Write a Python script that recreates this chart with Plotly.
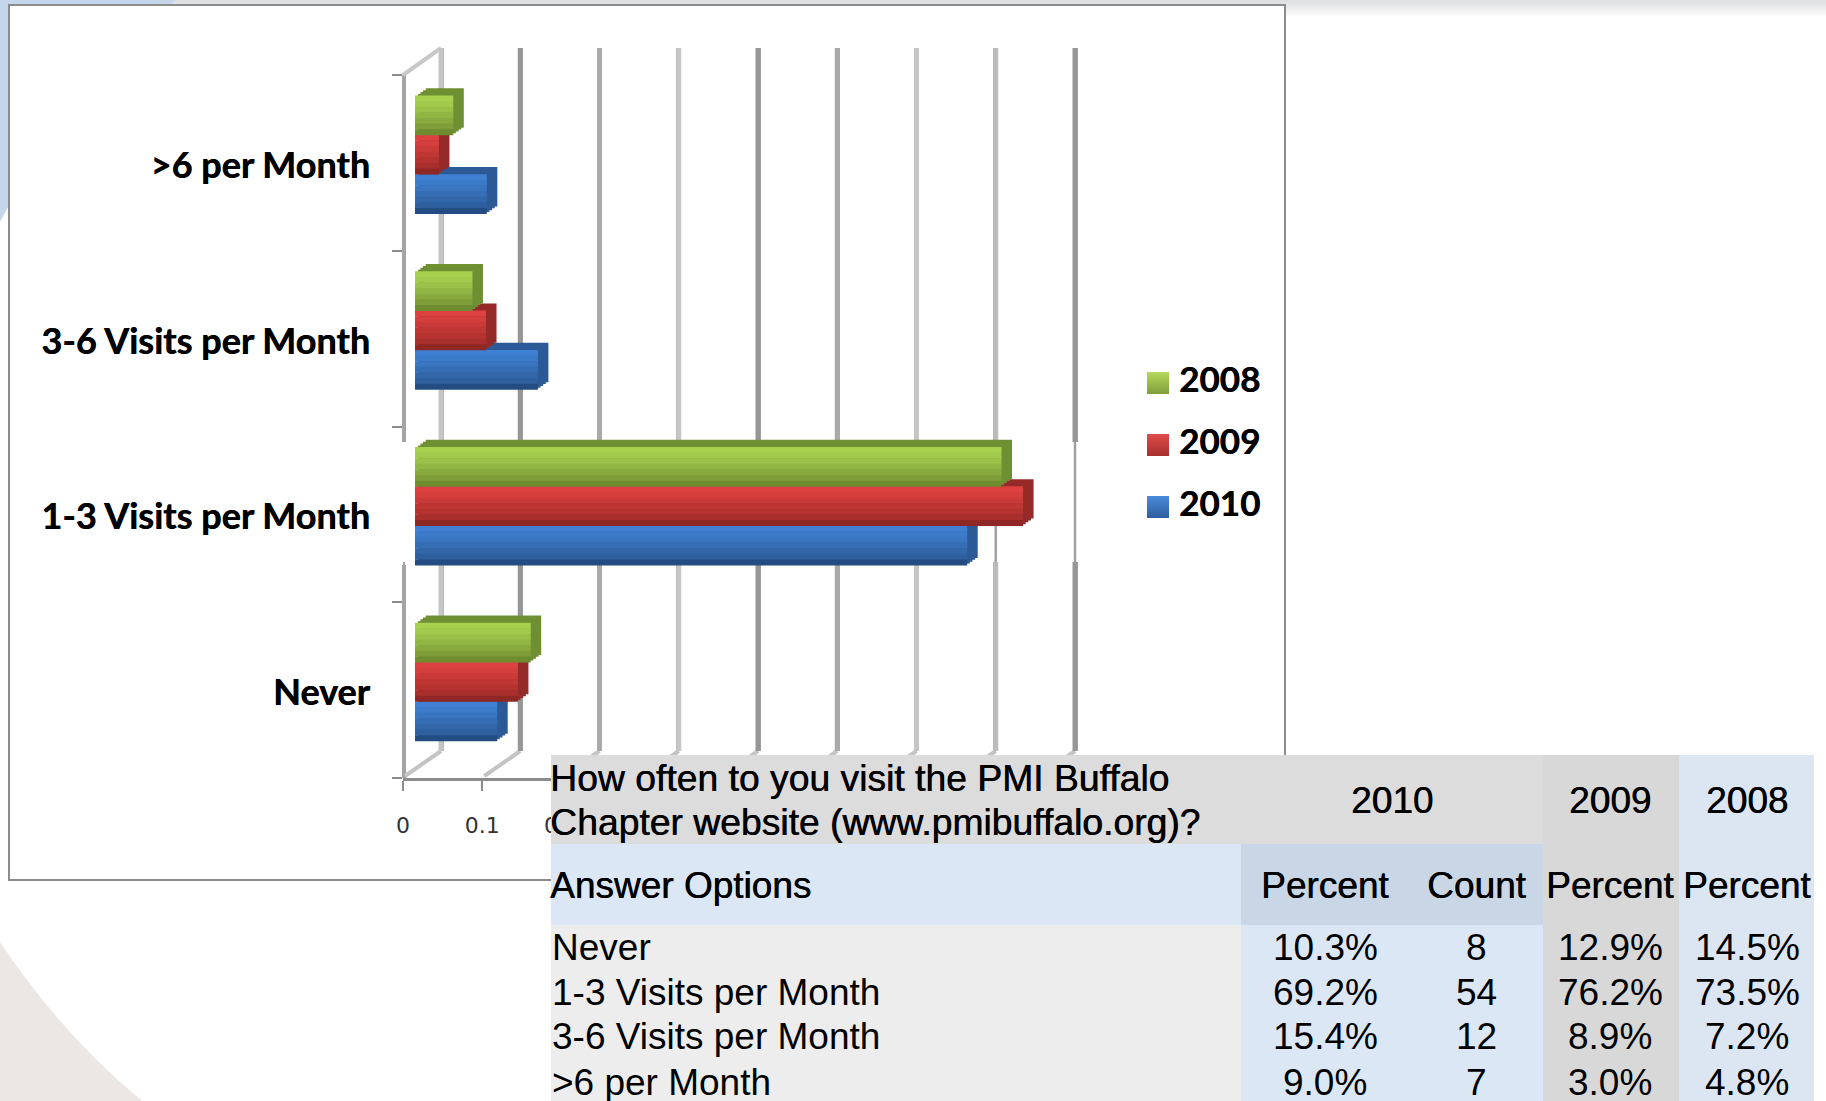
import plotly.graph_objects as go

W, H = 1826, 1101

# ---------- data ----------
answers = ["Never", "1-3 Visits per Month", "3-6 Visits per Month", ">6 per Month"]
pct_2010 = [10.3, 69.2, 15.4, 9.0]
count_2010 = [8, 54, 12, 7]
pct_2009 = [12.9, 76.2, 8.9, 3.0]
pct_2008 = [14.5, 73.5, 7.2, 4.8]
years = ["2010", "2009", "2008"]
question_lines = ["How often to you visit the PMI Buffalo", "Chapter website (www.pmibuffalo.org)?"]
x_ticks = [0, 0.1, 0.2, 0.3, 0.4, 0.5, 0.6, 0.7, 0.8]
grid_tones = ["#c6c6c6", "#969696", "#aaaaaa", "#c6c6c6", "#969696", "#aaaaaa", "#c6c6c6", "#bcbcbc", "#969696"]

series = {"2010": pct_2010, "2009": pct_2009, "2008": pct_2008}
ramps = {
    "2008": ["#a8d04f", "#a2ca4c", "#9bc148", "#92b644", "#89aa3f", "#7f9e3a", "#6f8c30"],
    "2009": ["#dc4140", "#d43e3c", "#ca3a39", "#bf3735", "#b43331", "#a92f2d", "#8f2725"],
    "2010": ["#3f80d2", "#3c7bca", "#3975c0", "#366eb5", "#3267aa", "#2e5f9e", "#234c82"],
}
depth_colors = {"2008": "#6f8f33", "2009": "#952a28", "2010": "#2c5a96"}
swatch = {"2008": ("#b4d95c", "#7f9e3a"), "2009": ("#e04c4a", "#a92f2d"), "2010": ("#4a8bdb", "#2e5f9e")}
slots = {"2010": -0.336, "2009": -0.112, "2008": 0.112}
bar_w = 0.224


def fx(p):
    return p / W


def fy(p):
    return 1 - p / H


def dom_x(a, b):
    return [fx(a), fx(b)]


def dom_y(top, bottom):
    return [fy(bottom), fy(top)]


fig = go.Figure()
PX_UNIT = 792.5  # px per 1.0 on the wall and floor axes
BAR_UNIT = 798   # px per 1.0 on the bar plane, nearer the viewer
RANGE = [0, 0.85]
layout_axes = {}

# subplot 1: back wall gridlines
fig.add_trace(go.Scatter(x=[0], y=[0], mode="markers", marker=dict(opacity=0), hoverinfo="skip",
                         showlegend=False, xaxis="x", yaxis="y"))
layout_axes["xaxis"] = dict(domain=dom_x(441 - 0.05 * PX_UNIT, 441 + 0.85 * PX_UNIT), range=[-0.05, 0.85],
                            tick0=0, dtick=0.1, showgrid=True, gridcolor="#a9a9a9", gridwidth=5,
                            zeroline=False, showticklabels=False, ticks="", anchor="y")
layout_axes["yaxis"] = dict(domain=dom_y(48, 751), range=[0, 1], showgrid=False, zeroline=False,
                            showticklabels=False, ticks="", anchor="x")

# subplots 2-5: extruded depth of the bars; subplot 6: front faces
BAR_LEFT, BAR_TOP, BAR_BOTTOM = 415, 67, 770
steps = [(10.5, -7.5), (7.9, -5.6), (5.25, -3.75), (2.6, -1.9)]
idx = 2
for dx, dy in steps:
    xn, yn = f"x{idx}", f"y{idx}"
    layout_axes[f"xaxis{idx}"] = dict(domain=dom_x(BAR_LEFT + dx, BAR_LEFT + dx + RANGE[1] * BAR_UNIT), range=RANGE,
                                      visible=False, anchor=yn)
    layout_axes[f"yaxis{idx}"] = dict(domain=dom_y(BAR_TOP + dy, BAR_BOTTOM + dy), range=[-0.5, 3.5], type="category",
                                      categoryorder="array", categoryarray=answers, visible=False, anchor=xn)
    for yr in years:
        fig.add_trace(go.Bar(y=answers, x=[v / 100 for v in series[yr]], orientation="h", name=yr,
                             offset=slots[yr], width=bar_w, marker=dict(color=depth_colors[yr], line=dict(width=0)),
                             hoverinfo="skip", showlegend=False, xaxis=xn, yaxis=yn))
    idx += 1

xn, yn = "x6", "y6"
layout_axes["xaxis6"] = dict(domain=dom_x(BAR_LEFT, BAR_LEFT + RANGE[1] * BAR_UNIT), range=RANGE, visible=False, anchor=yn)
layout_axes["yaxis6"] = dict(domain=dom_y(BAR_TOP, BAR_BOTTOM), range=[-0.5, 3.5], type="category",
                             categoryorder="array", categoryarray=answers, visible=False, anchor=xn)
for yr in years:
    ramp = ramps[yr]
    n = len(ramp)
    strip = bar_w / n
    for k, col in enumerate(ramp):  # k = 0 is the top strip
        fig.add_trace(go.Bar(y=answers, x=[v / 100 for v in series[yr]], orientation="h", name=yr,
                             offset=slots[yr] + bar_w - (k + 1) * strip, width=strip + 0.002,
                             marker=dict(color=col, line=dict(width=0)),
                             showlegend=False, xaxis=xn, yaxis=yn,
                             hovertemplate="%{y}: %{x:.1%}<extra>" + yr + "</extra>"))

# subplot 7: front axes (ticks and value labels)
fig.add_trace(go.Scatter(x=[0] * 4, y=answers, mode="markers", marker=dict(opacity=0), hoverinfo="skip",
                         showlegend=False, xaxis="x7", yaxis="y7"))
layout_axes["xaxis7"] = dict(domain=dom_x(403, 403 + RANGE[1] * PX_UNIT), range=RANGE, tickvals=x_ticks,
                             ticktext=[f"{t:g}" for t in x_ticks], ticks="outside", ticklen=10, tickwidth=2,
                             tickcolor="#8c8c8c", showgrid=False, zeroline=False, showline=True, linecolor="#8c8c8c",
                             linewidth=3, tickfont=dict(family="DejaVu Sans", size=22, color="#333333"),
                             ticklabelstandoff=16, anchor="y7")
layout_axes["yaxis7"] = dict(domain=dom_y(75, 778), range=[-0.5, 3.5], type="category", categoryorder="array",
                             categoryarray=answers, tickson="boundaries", ticks="outside", ticklen=10, tickwidth=2,
                             tickcolor="#8c8c8c", showgrid=False, zeroline=False, showline=False,
                             showticklabels=False, anchor="x7")

# subplot 8: category labels sit slightly lower than the ticks
fig.add_trace(go.Scatter(x=[0] * 4, y=answers, mode="markers", marker=dict(opacity=0), hoverinfo="skip",
                         showlegend=False, xaxis="x8", yaxis="y8"))
layout_axes["xaxis8"] = dict(domain=dom_x(403, 403 + RANGE[1] * PX_UNIT), range=RANGE, visible=False, anchor="y8")
layout_axes["yaxis8"] = dict(domain=dom_y(77.5, 780.5), range=[-0.5, 3.5], type="category", categoryorder="array",
                             categoryarray=answers, ticks="", showgrid=False, zeroline=False, showline=False,
                             tickfont=dict(family="Lato", size=36, color="#000000", weight="bold",
                                           shadow="0.5px 0 0 #000000"),
                             ticklabelstandoff=32, anchor="x8")

# subplot 9: legend
fig.add_trace(go.Scatter(x=[0, 0, 0], y=years, mode="markers",
                         marker=dict(symbol="square", size=22, color=[swatch[y][0] for y in years],
                                     gradient=dict(type="vertical", color=[swatch[y][1] for y in years]),
                                     line=dict(width=0)),
                         cliponaxis=False, hoverinfo="skip", showlegend=False, xaxis="x9", yaxis="y9"))
fig.add_trace(go.Scatter(x=[0.42, 0.42, 0.42], y=years, mode="text", text=years, textposition="middle right",
                         textfont=dict(family="Lato", size=35, color="#000000", weight="bold", shadow="0.5px 0 0 #000000"),
                         cliponaxis=False, hoverinfo="skip", showlegend=False, xaxis="x9", yaxis="y9"))
layout_axes["xaxis9"] = dict(domain=dom_x(1108, 1208), range=[-1, 1], visible=False, anchor="y9")
layout_axes["yaxis9"] = dict(domain=dom_y(352, 538), range=[-0.5, 2.5], type="category", categoryorder="array",
                             categoryarray=years, visible=False, anchor="x9")


# ---------- shapes ----------
def rect(x0, y0, x1, y1, fill, layer="below", line=None):
    return dict(type="rect", xref="paper", yref="paper", x0=fx(x0), x1=fx(x1), y0=fy(y1), y1=fy(y0),
                fillcolor=fill, line=line or dict(width=0), layer=layer)


def seg(x0, y0, x1, y1, color, width, layer="below"):
    return dict(type="line", xref="paper", yref="paper", x0=fx(x0), x1=fx(x1), y0=fy(y0), y1=fy(y1),
                line=dict(color=color, width=width), layer=layer)


def poly(pts_path, fill):
    return dict(type="path", xref="paper", yref="paper", path=pts_path, fillcolor=fill, line=dict(width=0), layer="below")


def P(x, y):
    return f"{fx(x):.5f},{fy(y):.5f}"


shapes = []
# slide background
grays = ["#dfe0e1", "#e1e2e3", "#e5e6e7", "#e9eaeb", "#eeeeef", "#f2f3f3", "#f6f6f7", "#fafafa"]
for i, c in enumerate(grays):
    shapes.append(rect(170, i * 2, W, i * 2 + 2, c))
shapes.append(poly(f"M{P(0,0)} L{P(176,0)} L{P(170,5)} L{P(8,5)} L{P(8,207)} L{P(0,222)} Z", "#c6d6ea"))
shapes.append(poly(f"M{P(0,942)} Q{P(62,1035)} {P(142,1101)} L{P(0,1101)} Z", "#ece7e3"))
# chart frame
shapes.append(rect(9, 5, 1285, 880, "#ffffff", line=dict(color="#8c8c8c", width=2)))

# per-line tones of the wall gridlines, then the band where they turn thin
band_top, band_bottom = 442, 562
to_gv = lambda p: 1 - (p - 48) / (751 - 48)
for t, tone in zip(x_ticks, grid_tones):
    shapes.append(dict(type="line", xref="x", yref="y", x0=t, x1=t, y0=0, y1=1,
                       line=dict(color=tone, width=5), layer="between"))
shapes.append(dict(type="rect", xref="x", yref="y", x0=-0.05, x1=0.85, y0=to_gv(band_bottom), y1=to_gv(band_top),
                   fillcolor="#ffffff", line=dict(width=0), layer="between"))
for t in x_ticks:
    shapes.append(dict(type="line", xref="x", yref="y", x0=t, x1=t, y0=to_gv(band_bottom), y1=to_gv(band_top),
                       line=dict(color="#a0a0a0", width=2.5), layer="between"))

# front wall and floor/wall joints
wall = "#a4a4a4"
shapes.append(seg(404, 75, 404, band_top, wall, 4))
shapes.append(seg(404, band_top, 404, band_bottom + 3, wall, 2))
shapes.append(seg(404, band_bottom + 3, 404, 778, wall, 4))
shapes.append(seg(403, 75, 441, 48, "#c8c8c8", 4))
for t in x_ticks:
    x0 = 403 + t * PX_UNIT
    shapes.append(seg(x0 + 2, 776, x0 + 38, 751, "#c4c4c4", 4))

# table blocks
T_L, C1, C2, C3, T_R = 551, 1241, 1543, 1679, 1814
R0, R1, R2 = 755, 844, 925
shapes += [
    rect(T_L, R0, C2, R1, "#dcdcdc", "above"),
    rect(C2, R0, C3, H, "#d8d8d8", "above"),
    rect(C3, R0, T_R, H, "#dce6f3", "above"),
    rect(T_L, R1, C1, R2, "#dce7f5", "above"),
    rect(C1, R1, C2, R2, "#c9d6e5", "above"),
    rect(T_L, R2, C1, H, "#ededed", "above"),
    rect(C1, R2, C2, H, "#dce7f5", "above"),
]

# ---------- table text ----------
TF = "Liberation Sans"
TS = 37


def note(text, x, y, anchor="center", bold=False, size=TS):
    font = dict(family=TF, size=size, color="#000000")
    if bold:
        font["shadow"] = "0.6px 0 0 #000000"
    return dict(text=text, xref="paper", yref="paper", x=fx(x), y=fy(y), xanchor=anchor, yanchor="middle",
                showarrow=False, font=font, xshift=0)


ann = [note(question_lines[0], 548, 778, "left", True, 37.3), note(question_lines[1], 548, 822, "left", True, 37.3)]
ann += [note("2010", 1392, 800, bold=True), note("2009", 1610, 800, bold=True), note("2008", 1747, 800, bold=True)]
ann += [note("Answer Options", 548, 885, "left", True), note("Percent", 1325, 885, bold=True), note("Count", 1476, 885, bold=True),
        note("Percent", 1610, 885, bold=True), note("Percent", 1747, 885, bold=True)]
row_y = [947, 992, 1036, 1082]
for a, p10, c10, p09, p08, y in zip(answers, pct_2010, count_2010, pct_2009, pct_2008, row_y):
    ann.append(note(a, 549.5, y, "left"))
    ann.append(note(f"{p10:.1f}%", 1325, y))
    ann.append(note(str(c10), 1476, y))
    ann.append(note(f"{p09:.1f}%", 1610, y))
    ann.append(note(f"{p08:.1f}%", 1747, y))

fig.update_layout(width=W, height=H, margin=dict(l=0, r=0, t=0, b=0, pad=0, autoexpand=False), paper_bgcolor="#ffffff",
                  plot_bgcolor="rgba(0,0,0,0)", barmode="overlay", showlegend=False, shapes=shapes, annotations=ann,
                  **layout_axes)

fig.write_html("out.html", config=dict(displayModeBar=False),
               post_script="document.body.style.margin='0';document.body.style.overflow='hidden';")
